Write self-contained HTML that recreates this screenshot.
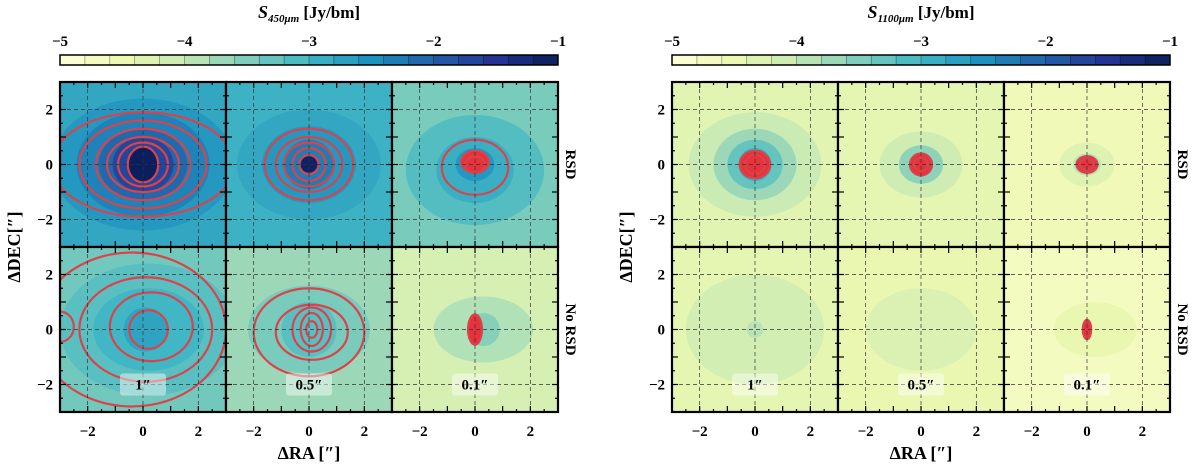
<!DOCTYPE html>
<html><head><meta charset="utf-8">
<style>
html,body{margin:0;padding:0;background:#fff;width:1200px;height:469px;overflow:hidden}
svg{display:block;font-family:"Liberation Serif",serif;font-weight:bold}
</style></head>
<body>
<svg id="fig" width="1200" height="469" viewBox="0 0 1200 469" xmlns="http://www.w3.org/2000/svg"></svg>
<script>
// ---- data ----
const cbTicks = [-5,-4,-3,-2,-1];
const axisTicks = [-2,0,2];
const figTitles = ["450\u03bcm","1100\u03bcm"];
const rowLabels = ["RSD","No RSD"];
const beamLabels = ["1\u2033","0.5\u2033","0.1\u2033"];
const bgLevels = [[-2.8,-2.95,-3.45,-3.4,-3.7,-4.2],[-4.35,-4.4,-4.6,-4.4,-4.45,-4.7]];
const fillLevels = [[
 [[-2.6,3.3,2.4,0,0],[-2.35,2.4,1.9,0,0],[-2.1,1.6,1.3,0,0],[-1.7,1.1,1.0,0,0],[-1.05,0.55,0.65,0,0]],
 [[-2.8,2.6,2.0,0,0],[-2.6,1.7,1.4,0,0],[-2.3,0.9,0.9,0,0],[-1.1,0.3,0.3,0,0]],
 [[-3.15,2.5,2.0,0,-0.2],[-2.9,1.4,1.2,0,-0.2],[-2.6,0.7,0.6,0,0],[-2.2,0.3,0.3,0,0]],
 [[-3.2,3.2,2.4,0.2,0],[-3.0,2.0,1.5,0.2,0],[-2.75,0.8,0.8,0.1,0]],
 [[-3.45,2.2,1.6,0,0],[-3.2,1.0,1.0,0,0]],
 [[-3.85,1.8,1.2,0.3,0],[-3.55,0.6,0.6,0.3,0]]
],[
 [[-4.05,2.4,1.9,0,0],[-3.7,1.5,1.3,0,0],[-3.3,1.0,0.9,0,0],[-2.9,0.6,0.6,0,0]],
 [[-4.1,1.5,1.2,0,0],[-3.6,0.8,0.7,0,0],[-3.0,0.4,0.4,0,0]],
 [[-4.3,1.0,0.8,0,0],[-3.9,0.5,0.4,0,0]],
 [[-4.15,2.5,2.0,0,0],[-3.9,0.3,0.3,0,0]],
 [[-4.25,2.0,1.5,0,0]],
 [[-4.45,1.5,1.0,0.3,0]]
]];
const contours = [[
 [[3.3,1.9,0,0],[2.3,1.6,0,0],[1.7,1.3,0,0],[1.3,1.0,0,0],[0.9,0.8,0,0],[0.55,0.65,0,0]],
 [[1.6,1.3,0,0],[1.2,1.0,0,0],[0.9,0.8,0,0],[0.6,0.6,0,0],[0.35,0.35,0,0]],
 [[1.2,1.0,0,-0.1],[0.5,0.4,0,0.1],[0.35,0.3,0,0]],
 [[3.4,2.8,-0.4,0],[2.4,1.9,0.1,0],[1.5,1.25,0.3,0.1],[0.7,0.7,0.2,0],[0.5,0.55,-3,0.1]],
 [[2.0,1.6,0,-0.1],[1.3,1.0,0.1,-0.1],[0.7,0.8,0.1,0],[0.4,0.6,0.1,0],[0.2,0.3,0.1,0]],
 [[0.25,0.55,0,0]]
],[
 [[0.55,0.5,0,0],[0.35,0.35,0,0]],
 [[0.4,0.4,0,0],[0.25,0.25,0,0]],
 [[0.38,0.3,0,0],[0.25,0.2,0,0]],
 [],[],
 [[0.15,0.35,0,0]]
]];
const redFill = [[false,false,true,false,false,true],[true,true,true,false,false,true]];

// ---- colormap ----
const stops=["#ffffd9","#edf8b1","#c7e9b4","#7fcdbb","#41b6c4","#1d91c0","#225ea8","#253494","#081d58"];
function hex(c){return [1,3,5].map(i=>parseInt(c.substr(i,2),16));}
function cmap(v){let t=(v+5)/4;t=Math.max(0,Math.min(1,t));let p=t*(stops.length-1);let i=Math.min(Math.floor(p),stops.length-2);let f=p-i;
 let a=hex(stops[i]),b=hex(stops[i+1]);let c=a.map((x,k)=>Math.round(x+(b[k]-x)*f));return `rgb(${c.join(',')})`;}

const NS="http://www.w3.org/2000/svg";const svg=document.getElementById('fig');
function el(tag,attrs,parent,text){const e=document.createElementNS(NS,tag);for(const k in attrs)e.setAttribute(k,attrs[k]);if(text!==undefined)e.textContent=text;(parent||svg).appendChild(e);return e;}

const figX=[60,672], panelW=166, panelH=165, topY=82;
figX.forEach((fx,f)=>{
 const fw=panelW*3;
 const t=el('text',{x:fx+fw/2,y:18,'text-anchor':'middle','font-size':18,'font-style':'italic'},svg);
 
 
 t.innerHTML=`S<tspan font-size="11" dy="4">${figTitles[f]}</tspan><tspan dy="-4" font-style="normal" font-size="17"> [Jy/bm]</tspan>`;
 const cb=el('g',{},svg);
 
 
 const nSeg=20,cbY=55,cbH=10;
 for(let i=0;i<nSeg;i++){const v=-5+4*(i+0.5)/nSeg;el('rect',{x:fx+fw*i/nSeg,y:cbY,width:fw/nSeg+0.5,height:cbH,fill:cmap(v)},cb);}
 el('rect',{x:fx,y:cbY,width:fw,height:cbH,fill:'none',stroke:'#000','stroke-width':1.5},cb);
 cbTicks.forEach(v=>{const x=fx+fw*(v+5)/4;
  const tl=el('text',{x:x,y:46,'text-anchor':'middle','font-size':15},cb,'\u2212'+Math.abs(v));
  
  
 });
 for(let k=0;k<nSeg;k++){const x=fx+fw*k/nSeg;el('line',{x1:x,x2:x,y1:cbY,y2:cbY+cbH,stroke:'#000','stroke-width':0.6,opacity:0.5},cb);}
 for(let r=0;r<2;r++)for(let c=0;c<3;c++){
  const idx=r*3+c,px=fx+c*panelW,py=topY+r*panelH;
  const sx=v=>px+panelW/2+v*panelW/6, sy=v=>py+panelH/2-v*panelH/6;
  const g=el('g',{},svg);
  
  
  const cid=`clip${f}${idx}`;
  const cp=el('clipPath',{id:cid},g);el('rect',{x:px,y:py,width:panelW,height:panelH},cp);
  const inner=el('g',{'clip-path':`url(#${cid})`},g);
  el('rect',{x:px,y:py,width:panelW,height:panelH,fill:cmap(bgLevels[f][idx])},inner);
  fillLevels[f][idx].forEach(L=>{
   const e=el('ellipse',{cx:sx(L[3]),cy:sy(L[4]),rx:L[1]*panelW/6,ry:L[2]*panelH/6,fill:cmap(L[0])},inner);
   
   
  });
  if(redFill[f][idx]){const cs=contours[f][idx];if(cs.length){const L=cs[cs.length>2&&f==0&&idx==2?1:0];
   el('ellipse',{cx:sx(L[2]),cy:sy(L[3]),rx:L[0]*panelW/6,ry:L[1]*panelH/6,fill:'#e8323a'},inner);}}
  contours[f][idx].forEach(L=>{
   const e=el('ellipse',{cx:sx(L[2]),cy:sy(L[3]),rx:L[0]*panelW/6,ry:L[1]*panelH/6,fill:'none',stroke:'#d9434b','stroke-width':2.2},inner);
   
   
  });
  axisTicks.forEach(v=>{
   el('line',{x1:sx(v),x2:sx(v),y1:py,y2:py+panelH,stroke:'#333','stroke-width':0.7,'stroke-dasharray':'4,3'},inner);
   el('line',{x1:px,x2:px+panelW,y1:sy(v),y2:sy(v),stroke:'#333','stroke-width':0.7,'stroke-dasharray':'4,3'},inner);
  });
  for(let m=-2.5;m<=2.51;m+=0.5){
   const len=Math.abs(m%1)<0.01?6:3;
   el('line',{x1:sx(m),x2:sx(m),y1:py,y2:py+len,stroke:'#000','stroke-width':1.2},g);
   el('line',{x1:sx(m),x2:sx(m),y1:py+panelH,y2:py+panelH-len,stroke:'#000','stroke-width':1.2},g);
   el('line',{x1:px,x2:px+len,y1:sy(m),y2:sy(m),stroke:'#000','stroke-width':1.2},g);
   el('line',{x1:px+panelW,x2:px+panelW-len,y1:sy(m),y2:sy(m),stroke:'#000','stroke-width':1.2},g);
  }
  el('rect',{x:px,y:py,width:panelW,height:panelH,fill:'none',stroke:'#000','stroke-width':2.2},g);
  if(r==1){
   const bx=sx(0),by=sy(-2);
   const lb=el('g',{},g);
   
   
   el('rect',{x:bx-23,y:by-11,width:46,height:22,rx:3,fill:'#fff','fill-opacity':0.45},lb);
   el('text',{x:bx,y:by+5,'text-anchor':'middle','font-size':15},lb,beamLabels[c]);
   axisTicks.forEach(v=>{const tl=el('text',{x:sx(v),y:py+panelH+24,'text-anchor':'middle','font-size':15},svg,(v<0?'\u2212':'')+Math.abs(v));
    
    });
  }
  if(c==0){
   axisTicks.forEach(v=>{const tl=el('text',{x:px-7,y:sy(v)+5,'text-anchor':'end','font-size':15},svg,(v<0?'\u2212':'')+Math.abs(v));
    
    });
  }
  if(c==2){
   const rl=el('text',{x:0,y:0,'text-anchor':'middle','font-size':15,transform:`translate(${px+panelW+8},${py+panelH/2}) rotate(90)`},svg,rowLabels[r]);
   
   
  }
 }
 const xl=el('text',{x:fx+fw/2,y:459,'text-anchor':'middle','font-size':18},svg,'\u0394RA [\u2033]');
 
 
 const yl=el('text',{x:0,y:0,'text-anchor':'middle','font-size':18,transform:`translate(${fx-40},${topY+panelH}) rotate(-90)`},svg,'\u0394DEC[\u2033]');
 
 
});
</script>
</body></html>
